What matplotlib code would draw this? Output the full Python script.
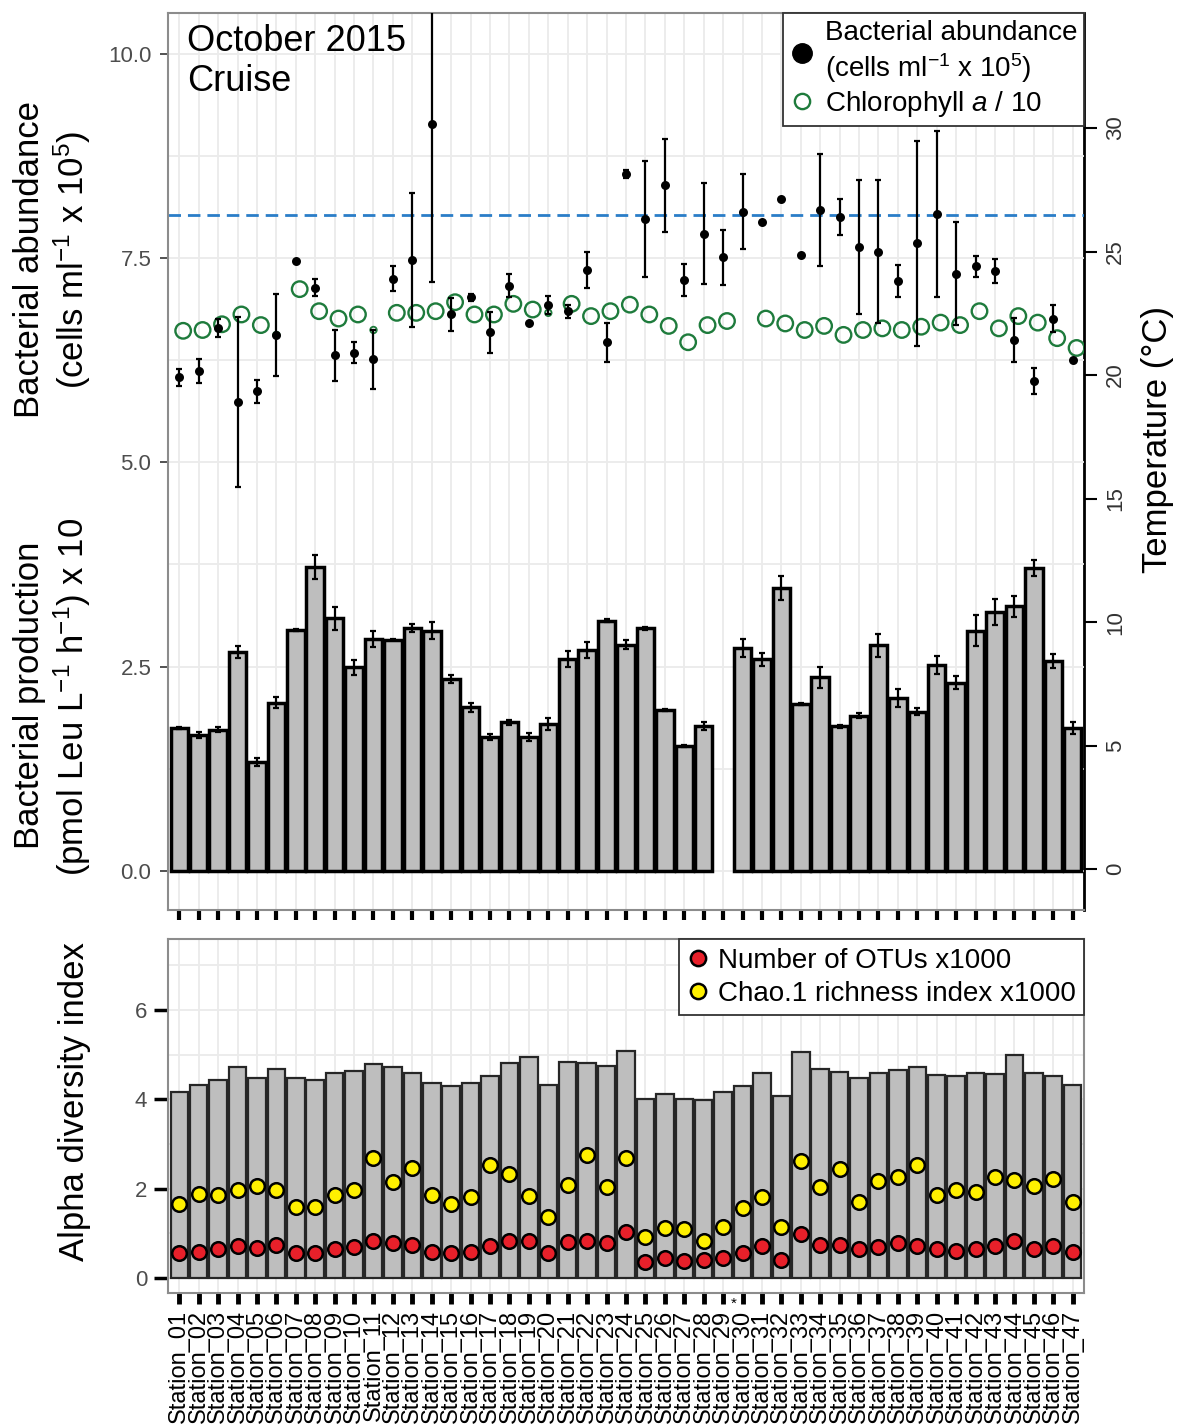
import numpy as np
import matplotlib
matplotlib.use("Agg")
import matplotlib.pyplot as plt
from matplotlib.lines import Line2D
from matplotlib.ticker import MultipleLocator, FormatStrFormatter
import matplotlib.transforms as mtransforms

plt.rcParams['font.family'] = ['Liberation Sans', 'DejaVu Sans']
plt.rcParams['mathtext.fontset'] = 'custom'
plt.rcParams['mathtext.rm'] = 'Liberation Sans'
plt.rcParams['mathtext.it'] = 'Liberation Sans:italic'
plt.rcParams['mathtext.default'] = 'rm'

# ---------------- data ----------------
stations = ["Station_%02d" % i for i in range(1, 48)]

abundance = [6.04, 6.12, 6.64, 5.74, 5.87, 6.56, 7.47, 7.14, 6.31, 6.34,
             6.26, 7.25, 7.48, 9.14, 6.81, 7.02, 6.59, 7.16, 6.70, 6.93,
             6.85, 7.36, 6.47, 8.53, 7.98, 8.39, 7.23, 7.80, 7.51, 8.07,
             7.94, 8.22, 7.54, 8.09, 8.00, 7.64, 7.58, 7.22, 7.68, 8.04,
             7.31, 7.40, 7.34, 6.50, 6.00, 6.76, 6.25]
abundance_err = [0.10, 0.15, 0.11, 1.04, 0.14, 0.50, 0.00, 0.10, 0.31, 0.13,
                 0.36, 0.15, 0.82, 1.93, 0.20, 0.04, 0.25, 0.14, 0.00, 0.11,
                 0.08, 0.22, 0.24, 0.05, 0.71, 0.57, 0.20, 0.62, 0.34, 0.46,
                 0.00, 0.00, 0.00, 0.69, 0.22, 0.82, 0.87, 0.20, 1.25, 1.02,
                 0.63, 0.13, 0.15, 0.27, 0.16, 0.16, 0.00]

chlorophyll_div10 = [6.61, 6.62, 6.69, 6.81, 6.68, 6.56, 7.12, 6.85, 6.76, 6.81,
                     6.62, 6.83, 6.83, 6.85, 6.96, 6.81, 6.81, 6.94, 6.87, 6.83,
                     6.94, 6.79, 6.85, 6.93, 6.81, 6.67, 6.47, 6.68, 6.73, np.nan,
                     6.76, 6.70, 6.62, 6.67, 6.56, 6.62, 6.64, 6.62, 6.66, 6.71,
                     6.68, 6.85, 6.64, 6.79, 6.71, 6.52, 6.40]
chl_small_stations = [6, 11, 20]

production = [1.75, 1.66, 1.73, 2.68, 1.33, 2.06, 2.95, 3.72, 3.09, 2.49,
              2.84, 2.83, 2.97, 2.94, 2.35, 2.00, 1.64, 1.82, 1.64, 1.80,
              2.59, 2.70, 3.06, 2.77, 2.97, 1.97, 1.53, 1.77, np.nan, 2.73,
              2.59, 3.46, 2.04, 2.37, 1.77, 1.90, 2.76, 2.12, 1.95, 2.52,
              2.30, 2.94, 3.17, 3.24, 3.71, 2.57, 1.75]
production_err = [0.01, 0.04, 0.03, 0.07, 0.05, 0.07, 0.01, 0.15, 0.14, 0.09,
                  0.10, 0.01, 0.05, 0.10, 0.05, 0.05, 0.04, 0.03, 0.05, 0.07,
                  0.10, 0.10, 0.02, 0.05, 0.02, 0.01, 0.01, 0.05, np.nan, 0.11,
                  0.08, 0.15, 0.01, 0.13, 0.02, 0.03, 0.14, 0.11, 0.04, 0.11,
                  0.08, 0.19, 0.16, 0.13, 0.10, 0.09, 0.07]

temperature_ref = 26.5

shannon = [4.17, 4.32, 4.43, 4.73, 4.47, 4.67, 4.48, 4.44, 4.59, 4.63,
           4.80, 4.73, 4.59, 4.36, 4.30, 4.36, 4.52, 4.82, 4.94, 4.32,
           4.83, 4.82, 4.74, 5.09, 4.00, 4.13, 4.00, 3.99, 4.17, 4.30,
           4.58, 4.07, 5.07, 4.68, 4.62, 4.47, 4.60, 4.65, 4.73, 4.54,
           4.52, 4.60, 4.56, 5.00, 4.60, 4.52, 4.33]
chao1_x1000 = [1.66, 1.88, 1.86, 1.97, 2.06, 1.98, 1.58, 1.60, 1.86, 1.98,
               2.68, 2.14, 2.47, 1.87, 1.66, 1.82, 2.53, 2.33, 1.84, 1.37,
               2.08, 2.75, 2.04, 2.69, 0.92, 1.13, 1.10, 0.83, 1.15, 1.56,
               1.82, 1.15, 2.62, 2.04, 2.45, 1.71, 2.18, 2.27, 2.54, 1.86,
               1.97, 1.93, 2.27, 2.19, 2.06, 2.21, 1.71]
otus_x1000 = [0.55, 0.59, 0.64, 0.72, 0.68, 0.74, 0.57, 0.56, 0.66, 0.70,
              0.83, 0.79, 0.75, 0.59, 0.55, 0.59, 0.72, 0.83, 0.82, 0.55,
              0.81, 0.83, 0.79, 1.04, 0.37, 0.44, 0.38, 0.40, 0.44, 0.55,
              0.72, 0.40, 0.98, 0.75, 0.75, 0.65, 0.70, 0.78, 0.72, 0.65,
              0.60, 0.65, 0.72, 0.83, 0.65, 0.72, 0.59]
starred_station = 30

# ---------------- styling ----------------
GRID = '#EBEBEB'
FRAME = '#8C8C8C'
BARC = '#BEBEBE'
GREEN = '#1E7B3C'
BLUE = '#2A7DC8'
TICKC = '#4D4D4D'

x = np.arange(1, len(stations) + 1)
prod = np.array(production, dtype=float)
prod_e = np.array(production_err, dtype=float)
ab = np.array(abundance)
ab_e = np.array(abundance_err)
chl = np.array(chlorophyll_div10, dtype=float)

fig = plt.figure(figsize=(11.79, 14.28), dpi=100)

ax1 = fig.add_axes([0.1425, 0.3627, 0.7769, 0.6282])
ax2 = ax1.twinx()
ax1.set_zorder(ax2.get_zorder() + 1)
ax1.patch.set_visible(False)

# top panel
ax1.set_xlim(0.42, 47.58)
ax1.set_ylim(-0.48, 10.5)
ax1.yaxis.set_major_locator(MultipleLocator(2.5))
ax1.yaxis.set_minor_locator(MultipleLocator(1.25))
ax1.grid(True, which='both', axis='y', color=GRID, lw=1.3, zorder=0)
ax1.set_xticks(x)
ax1.set_xticklabels([])
ax1.grid(True, which='major', axis='x', color=GRID, lw=1.3, zorder=0)
ax1.set_axisbelow(True)
ax1.tick_params(axis='x', length=7, width=3, color='black', direction='out')
ax1.tick_params(axis='y', which='major', length=6, width=1.2, color='#333333',
                labelsize=16, labelcolor=TICKC, pad=6)
ax1.tick_params(axis='y', which='minor', length=0)
ax1.yaxis.set_major_formatter(FormatStrFormatter('%.1f'))
for s in ['left', 'top', 'bottom']:
    ax1.spines[s].set_color(FRAME)
    ax1.spines[s].set_linewidth(1.5)
ax1.spines['right'].set_visible(False)

# temperature axis
ax2.set_ylim(-1.66, 34.66)
ax2.set_yticks([0, 5, 10, 15, 20, 25, 30])
ax2.tick_params(axis='y', length=9, width=1.5, color='black', labelsize=16,
                labelcolor='#333333', pad=6, labelrotation=90)
for lab in ax2.get_yticklabels():
    lab.set_va('center')
ax2.spines['right'].set_color('black')
ax2.spines['right'].set_linewidth(2)
for s in ['left', 'top', 'bottom']:
    ax2.spines[s].set_visible(False)

# reference temperature line, drawn in temperature units (ax2 scale) on top layer
tline = mtransforms.blended_transform_factory(ax1.transAxes, ax2.transData)
ax1.plot([0, 1], [temperature_ref, temperature_ref], transform=tline,
         color=BLUE, lw=2, ls=(0, (4.5, 2.5)), zorder=1.5)

m = ~np.isnan(prod)
ax1.bar(x[m], prod[m], width=0.9, color=BARC, edgecolor='black', lw=2.5, zorder=2)
ax1.errorbar(x[m], prod[m], yerr=prod_e[m], fmt='none', ecolor='black',
             elinewidth=1.6, capsize=2.5, capthick=1.6, zorder=3)

mc = ~np.isnan(chl)
small = np.isin(x, chl_small_stations)
big = mc & ~small
ax1.scatter(x[big] + 0.2, chl[big], s=125, facecolors='none', edgecolors=GREEN,
            linewidths=1.7, zorder=4)
ax1.scatter(x[small], chl[small], s=22, facecolors='none', edgecolors=GREEN,
            linewidths=1.3, zorder=4)

me = ab_e > 0
ax1.errorbar(x[me], ab[me], yerr=ab_e[me], fmt='none', ecolor='black',
             elinewidth=1.6, capsize=2.5, capthick=1.6, zorder=5)
ax1.scatter(x, ab, s=42, color='black', zorder=6, linewidths=0)

ax1.text(0.021, 0.988, "October 2015\nCruise", transform=ax1.transAxes,
         fontsize=26, va='top', ha='left', linespacing=1.2, zorder=10)

h1 = Line2D([], [], marker='o', color='black', ls='none', ms=14)
h2 = Line2D([], [], marker='o', mfc='none', mec=GREEN, mew=1.7, ls='none', ms=11)
leg = ax1.legend([h1, h2],
                 ["Bacterial abundance\n(cells ml$^{-1}$ x 10$^{5}$)",
                  "Chlorophyll $\\mathit{a}$ / 10"],
                 loc='upper right', bbox_to_anchor=(1, 1), borderaxespad=0,
                 fontsize=20, frameon=True, fancybox=False, framealpha=1,
                 edgecolor='#333333', handlelength=0.9, handletextpad=0.35,
                 labelspacing=0.15, borderpad=0.25)
leg.get_frame().set_linewidth(1.3)
leg.set_zorder(20)

# bottom panel
ax3 = fig.add_axes([0.1425, 0.0947, 0.7769, 0.2474])
ax3.set_xlim(0.42, 47.58)
ax3.set_ylim(-0.33, 7.58)
ax3.yaxis.set_major_locator(MultipleLocator(2))
ax3.yaxis.set_minor_locator(MultipleLocator(1))
ax3.set_xticks(x)
ax3.set_xticklabels(stations, rotation=90, fontsize=17)
ax3.grid(True, which='both', axis='y', color=GRID, lw=1.3)
ax3.grid(True, which='major', axis='x', color=GRID, lw=1.3)
ax3.set_axisbelow(True)
ax3.tick_params(axis='x', length=8, width=3.5, color='black', pad=4)
ax3.tick_params(axis='y', which='major', length=10, width=2.5, color='black',
                labelsize=16, labelcolor=TICKC, pad=5)
ax3.tick_params(axis='y', which='minor', length=0)
for s in ax3.spines.values():
    s.set_color(FRAME)
    s.set_linewidth(1.5)

ax3.bar(x, shannon, width=0.9, color=BARC, edgecolor='#262626', lw=1.6, zorder=2)
ax3.plot(x, otus_x1000, 'o', ms=10.5, mfc='#E8202A', mec='black', mew=1.8, zorder=4)
ax3.plot(x, chao1_x1000, 'o', ms=10.5, mfc='#FFF000', mec='black', mew=1.8, zorder=4)

hr = Line2D([], [], marker='o', ms=11, mfc='#E8202A', mec='black', mew=1.8, ls='none')
hy = Line2D([], [], marker='o', ms=11, mfc='#FFF000', mec='black', mew=1.8, ls='none')
leg2 = ax3.legend([hr, hy], ["Number of OTUs x1000", "Chao.1 richness index x1000"],
                  loc='upper right', bbox_to_anchor=(1, 1), borderaxespad=0,
                  fontsize=20, frameon=True, fancybox=False, framealpha=1,
                  edgecolor='#333333', handlelength=0.8, handletextpad=0.3,
                  labelspacing=0.25, borderpad=0.3)
leg2.get_frame().set_linewidth(1.3)

trans = mtransforms.blended_transform_factory(ax3.transData, ax3.transAxes)
ax3.text(starred_station - 0.45, -0.03, "*", transform=trans, fontsize=11,
         ha='center', va='center')

# axis titles
fig.text(0.0254, 0.818, "Bacterial abundance", rotation=90, fontsize=25,
         ha='center', va='center')
fig.text(0.061, 0.818, "(cells ml$^{-1}$ x 10$^{5}$)", rotation=90, fontsize=25,
         ha='center', va='center')
fig.text(0.0254, 0.5133, "Bacterial production", rotation=90, fontsize=25,
         ha='center', va='center')
fig.text(0.061, 0.512, "(pmol Leu L$^{-1}$ h$^{-1}$) x 10", rotation=90, fontsize=25,
         ha='center', va='center')
fig.text(0.0636, 0.2283, "Alpha diversity index", rotation=90, fontsize=25,
         ha='center', va='center')
fig.text(0.982, 0.692, "Temperature (°C)", rotation=90, fontsize=25,
         ha='center', va='center')

fig.savefig("out.png", dpi=100)
